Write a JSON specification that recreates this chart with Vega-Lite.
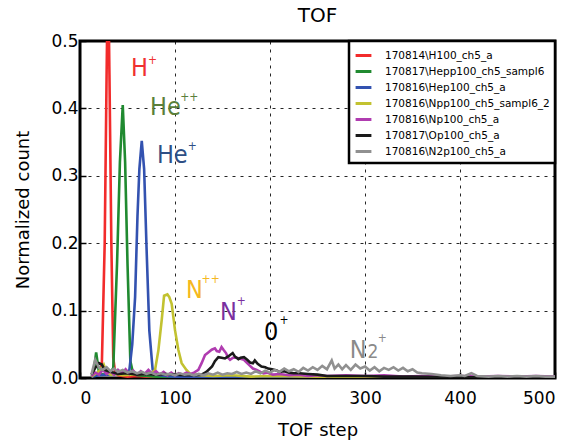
{
 "$schema": "https://vega.github.io/schema/vega-lite/v6.json",
 "width": 475, "height": 337,
 "autosize": {"type": "none"},
 "padding": {"left": 80, "top": 41, "right": 24, "bottom": 62},
 "title": {"text": "TOF", "fontSize": 20, "font": "DejaVu Sans", "fontWeight": "normal", "color": "black", "offset": 6},
 "datasets": {
  "names": [
   {"s": "H", "label": "170814\\H100_ch5_a"},
   {"s": "Hepp", "label": "170817\\Hepp100_ch5_sampl6"},
   {"s": "Hep", "label": "170816\\Hep100_ch5_a"},
   {"s": "Npp", "label": "170816\\Npp100_ch5_sampl6_2"},
   {"s": "Np", "label": "170816\\Np100_ch5_a"},
   {"s": "Op", "label": "170817\\Op100_ch5_a"},
   {"s": "N2p", "label": "170816\\N2p100_ch5_a"}
  ],
  "curves": [
   {"s":"H","x":12,"y":0.003},{"s":"H","x":16,"y":0.005},{"s":"H","x":20,"y":0.008},{"s":"H","x":23,"y":0.02},{"s":"H","x":26,"y":0.2},{"s":"H","x":28,"y":0.45},{"s":"H","x":29.5,"y":0.62},{"s":"H","x":31,"y":0.45},{"s":"H","x":33,"y":0.2},{"s":"H","x":35,"y":0.03},{"s":"H","x":37,"y":0.008},{"s":"H","x":40,"y":0.004},{"s":"H","x":45,"y":0.003},{"s":"H","x":50,"y":0.002},{"s":"H","x":60,"y":0.003},{"s":"H","x":70,"y":0.002},{"s":"H","x":80,"y":0.002},{"s":"H","x":100,"y":0.001},{"s":"H","x":150,"y":0.001},{"s":"H","x":200,"y":0.001},{"s":"H","x":300,"y":0.001},{"s":"H","x":400,"y":0.0005},{"s":"H","x":500,"y":0.0005},
   {"s":"Hepp","x":12,"y":0.002},{"s":"Hepp","x":14,"y":0.005},{"s":"Hepp","x":17,"y":0.038},{"s":"Hepp","x":20,"y":0.008},{"s":"Hepp","x":24,"y":0.005},{"s":"Hepp","x":28,"y":0.006},{"s":"Hepp","x":32,"y":0.008},{"s":"Hepp","x":35,"y":0.015},{"s":"Hepp","x":39,"y":0.17},{"s":"Hepp","x":42,"y":0.32},{"s":"Hepp","x":45,"y":0.405},{"s":"Hepp","x":47.5,"y":0.32},{"s":"Hepp","x":50,"y":0.17},{"s":"Hepp","x":53,"y":0.025},{"s":"Hepp","x":56,"y":0.006},{"s":"Hepp","x":60,"y":0.004},{"s":"Hepp","x":70,"y":0.003},{"s":"Hepp","x":80,"y":0.002},{"s":"Hepp","x":100,"y":0.002},{"s":"Hepp","x":150,"y":0.001},{"s":"Hepp","x":200,"y":0.001},{"s":"Hepp","x":300,"y":0.001},{"s":"Hepp","x":400,"y":0.0005},{"s":"Hepp","x":500,"y":0.0005},
   {"s":"Hep","x":12,"y":0.002},{"s":"Hep","x":20,"y":0.004},{"s":"Hep","x":30,"y":0.005},{"s":"Hep","x":40,"y":0.006},{"s":"Hep","x":48,"y":0.006},{"s":"Hep","x":52,"y":0.012},{"s":"Hep","x":55,"y":0.05},{"s":"Hep","x":58,"y":0.12},{"s":"Hep","x":60.5,"y":0.24},{"s":"Hep","x":62.5,"y":0.31},{"s":"Hep","x":65,"y":0.352},{"s":"Hep","x":67.5,"y":0.31},{"s":"Hep","x":70,"y":0.195},{"s":"Hep","x":73,"y":0.07},{"s":"Hep","x":76.5,"y":0.012},{"s":"Hep","x":80,"y":0.005},{"s":"Hep","x":90,"y":0.003},{"s":"Hep","x":100,"y":0.002},{"s":"Hep","x":150,"y":0.001},{"s":"Hep","x":200,"y":0.001},{"s":"Hep","x":300,"y":0.001},{"s":"Hep","x":400,"y":0.0005},{"s":"Hep","x":500,"y":0.0005},
   {"s":"Npp","x":12,"y":0.002},{"s":"Npp","x":16,"y":0.006},{"s":"Npp","x":20,"y":0.01},{"s":"Npp","x":25,"y":0.02},{"s":"Npp","x":28,"y":0.008},{"s":"Npp","x":32,"y":0.005},{"s":"Npp","x":38,"y":0.006},{"s":"Npp","x":45,"y":0.004},{"s":"Npp","x":55,"y":0.005},{"s":"Npp","x":65,"y":0.006},{"s":"Npp","x":75,"y":0.007},{"s":"Npp","x":79,"y":0.012},{"s":"Npp","x":82.5,"y":0.041},{"s":"Npp","x":86,"y":0.086},{"s":"Npp","x":88.5,"y":0.122},{"s":"Npp","x":92,"y":0.124},{"s":"Npp","x":94,"y":0.12},{"s":"Npp","x":96.5,"y":0.11},{"s":"Npp","x":100,"y":0.071},{"s":"Npp","x":103.5,"y":0.042},{"s":"Npp","x":107,"y":0.022},{"s":"Npp","x":112,"y":0.012},{"s":"Npp","x":116,"y":0.006},{"s":"Npp","x":125,"y":0.004},{"s":"Npp","x":140,"y":0.003},{"s":"Npp","x":160,"y":0.004},{"s":"Npp","x":180,"y":0.002},{"s":"Npp","x":200,"y":0.003},{"s":"Npp","x":250,"y":0.002},{"s":"Npp","x":300,"y":0.001},{"s":"Npp","x":400,"y":0.001},{"s":"Npp","x":500,"y":0.0005},
   {"s":"Np","x":12,"y":0.003},{"s":"Np","x":16,"y":0.008},{"s":"Np","x":20,"y":0.005},{"s":"Np","x":24,"y":0.012},{"s":"Np","x":28,"y":0.006},{"s":"Np","x":32,"y":0.01},{"s":"Np","x":36,"y":0.005},{"s":"Np","x":40,"y":0.012},{"s":"Np","x":44,"y":0.007},{"s":"Np","x":48,"y":0.013},{"s":"Np","x":52,"y":0.006},{"s":"Np","x":56,"y":0.011},{"s":"Np","x":60,"y":0.005},{"s":"Np","x":64,"y":0.01},{"s":"Np","x":68,"y":0.006},{"s":"Np","x":72,"y":0.012},{"s":"Np","x":76,"y":0.006},{"s":"Np","x":80,"y":0.01},{"s":"Np","x":84,"y":0.005},{"s":"Np","x":88,"y":0.009},{"s":"Np","x":92,"y":0.004},{"s":"Np","x":96,"y":0.008},{"s":"Np","x":100,"y":0.004},{"s":"Np","x":104,"y":0.007},{"s":"Np","x":108,"y":0.005},{"s":"Np","x":112,"y":0.008},{"s":"Np","x":116,"y":0.006},{"s":"Np","x":120,"y":0.008},{"s":"Np","x":124.6,"y":0.012},{"s":"Np","x":128,"y":0.022},{"s":"Np","x":131.6,"y":0.034},{"s":"Np","x":135,"y":0.038},{"s":"Np","x":138.6,"y":0.042},{"s":"Np","x":142,"y":0.044},{"s":"Np","x":144,"y":0.04},{"s":"Np","x":146.6,"y":0.039},{"s":"Np","x":149,"y":0.046},{"s":"Np","x":151,"y":0.042},{"s":"Np","x":153.7,"y":0.037},{"s":"Np","x":156,"y":0.03},{"s":"Np","x":158,"y":0.027},{"s":"Np","x":161,"y":0.03},{"s":"Np","x":165,"y":0.03},{"s":"Np","x":168,"y":0.029},{"s":"Np","x":172.6,"y":0.027},{"s":"Np","x":176,"y":0.022},{"s":"Np","x":179,"y":0.018},{"s":"Np","x":182,"y":0.014},{"s":"Np","x":186,"y":0.012},{"s":"Np","x":190,"y":0.009},{"s":"Np","x":193,"y":0.007},{"s":"Np","x":197,"y":0.008},{"s":"Np","x":203,"y":0.005},{"s":"Np","x":210,"y":0.006},{"s":"Np","x":220,"y":0.004},{"s":"Np","x":230,"y":0.005},{"s":"Np","x":240,"y":0.003},{"s":"Np","x":250,"y":0.004},{"s":"Np","x":260,"y":0.003},{"s":"Np","x":280,"y":0.004},{"s":"Np","x":300,"y":0.003},{"s":"Np","x":320,"y":0.004},{"s":"Np","x":340,"y":0.002},{"s":"Np","x":360,"y":0.003},{"s":"Np","x":380,"y":0.002},{"s":"Np","x":400,"y":0.003},{"s":"Np","x":420,"y":0.002},{"s":"Np","x":440,"y":0.003},{"s":"Np","x":460,"y":0.002},{"s":"Np","x":480,"y":0.003},{"s":"Np","x":500,"y":0.002},
   {"s":"Op","x":12,"y":0.005},{"s":"Op","x":16,"y":0.015},{"s":"Op","x":20,"y":0.022},{"s":"Op","x":23,"y":0.02},{"s":"Op","x":26,"y":0.012},{"s":"Op","x":30,"y":0.01},{"s":"Op","x":35,"y":0.008},{"s":"Op","x":40,"y":0.006},{"s":"Op","x":50,"y":0.007},{"s":"Op","x":60,"y":0.005},{"s":"Op","x":70,"y":0.006},{"s":"Op","x":80,"y":0.005},{"s":"Op","x":90,"y":0.006},{"s":"Op","x":100,"y":0.005},{"s":"Op","x":110,"y":0.004},{"s":"Op","x":120,"y":0.004},{"s":"Op","x":128,"y":0.005},{"s":"Op","x":133,"y":0.009},{"s":"Op","x":139,"y":0.017},{"s":"Op","x":142,"y":0.025},{"s":"Op","x":145.6,"y":0.031},{"s":"Op","x":149,"y":0.03},{"s":"Op","x":152.6,"y":0.029},{"s":"Op","x":156,"y":0.032},{"s":"Op","x":160.7,"y":0.037},{"s":"Op","x":163,"y":0.032},{"s":"Op","x":166.7,"y":0.028},{"s":"Op","x":169,"y":0.03},{"s":"Op","x":172.6,"y":0.031},{"s":"Op","x":176,"y":0.027},{"s":"Op","x":179,"y":0.023},{"s":"Op","x":182,"y":0.022},{"s":"Op","x":184,"y":0.026},{"s":"Op","x":187,"y":0.021},{"s":"Op","x":191,"y":0.017},{"s":"Op","x":195,"y":0.016},{"s":"Op","x":198,"y":0.014},{"s":"Op","x":202,"y":0.013},{"s":"Op","x":207,"y":0.011},{"s":"Op","x":210,"y":0.009},{"s":"Op","x":215,"y":0.01},{"s":"Op","x":220,"y":0.008},{"s":"Op","x":225,"y":0.007},{"s":"Op","x":231,"y":0.007},{"s":"Op","x":240,"y":0.006},{"s":"Op","x":250,"y":0.005},{"s":"Op","x":260,"y":0.003},{"s":"Op","x":280,"y":0.003},{"s":"Op","x":300,"y":0.003},{"s":"Op","x":320,"y":0.002},{"s":"Op","x":350,"y":0.002},{"s":"Op","x":400,"y":0.001},{"s":"Op","x":450,"y":0.001},{"s":"Op","x":500,"y":0.001},
   {"s":"N2p","x":12,"y":0.005},{"s":"N2p","x":16,"y":0.027},{"s":"N2p","x":20,"y":0.015},{"s":"N2p","x":24,"y":0.012},{"s":"N2p","x":28,"y":0.016},{"s":"N2p","x":32,"y":0.01},{"s":"N2p","x":36,"y":0.014},{"s":"N2p","x":40,"y":0.009},{"s":"N2p","x":45,"y":0.012},{"s":"N2p","x":50,"y":0.008},{"s":"N2p","x":55,"y":0.01},{"s":"N2p","x":60,"y":0.007},{"s":"N2p","x":65,"y":0.009},{"s":"N2p","x":70,"y":0.006},{"s":"N2p","x":75,"y":0.008},{"s":"N2p","x":80,"y":0.005},{"s":"N2p","x":85,"y":0.007},{"s":"N2p","x":90,"y":0.005},{"s":"N2p","x":95,"y":0.006},{"s":"N2p","x":100,"y":0.004},{"s":"N2p","x":105,"y":0.007},{"s":"N2p","x":110,"y":0.005},{"s":"N2p","x":115,"y":0.006},{"s":"N2p","x":120,"y":0.004},{"s":"N2p","x":125,"y":0.006},{"s":"N2p","x":130,"y":0.004},{"s":"N2p","x":135,"y":0.007},{"s":"N2p","x":140,"y":0.005},{"s":"N2p","x":145,"y":0.008},{"s":"N2p","x":150,"y":0.005},{"s":"N2p","x":155,"y":0.007},{"s":"N2p","x":160,"y":0.006},{"s":"N2p","x":165,"y":0.009},{"s":"N2p","x":170,"y":0.006},{"s":"N2p","x":175,"y":0.008},{"s":"N2p","x":180,"y":0.006},{"s":"N2p","x":185,"y":0.01},{"s":"N2p","x":190,"y":0.007},{"s":"N2p","x":195,"y":0.011},{"s":"N2p","x":200,"y":0.008},{"s":"N2p","x":205,"y":0.012},{"s":"N2p","x":210,"y":0.009},{"s":"N2p","x":215,"y":0.014},{"s":"N2p","x":220,"y":0.01},{"s":"N2p","x":225,"y":0.013},{"s":"N2p","x":230,"y":0.009},{"s":"N2p","x":235,"y":0.015},{"s":"N2p","x":240,"y":0.011},{"s":"N2p","x":245,"y":0.016},{"s":"N2p","x":250,"y":0.012},{"s":"N2p","x":255,"y":0.018},{"s":"N2p","x":260,"y":0.013},{"s":"N2p","x":265,"y":0.026},{"s":"N2p","x":268,"y":0.014},{"s":"N2p","x":272,"y":0.02},{"s":"N2p","x":276,"y":0.013},{"s":"N2p","x":280,"y":0.019},{"s":"N2p","x":285,"y":0.012},{"s":"N2p","x":290,"y":0.02},{"s":"N2p","x":295,"y":0.014},{"s":"N2p","x":300,"y":0.017},{"s":"N2p","x":305,"y":0.011},{"s":"N2p","x":310,"y":0.016},{"s":"N2p","x":315,"y":0.01},{"s":"N2p","x":320,"y":0.015},{"s":"N2p","x":325,"y":0.012},{"s":"N2p","x":330,"y":0.016},{"s":"N2p","x":335,"y":0.011},{"s":"N2p","x":340,"y":0.015},{"s":"N2p","x":345,"y":0.01},{"s":"N2p","x":350,"y":0.013},{"s":"N2p","x":355,"y":0.008},{"s":"N2p","x":360,"y":0.007},{"s":"N2p","x":370,"y":0.006},{"s":"N2p","x":380,"y":0.004},{"s":"N2p","x":390,"y":0.003},{"s":"N2p","x":400,"y":0.004},{"s":"N2p","x":405,"y":0.003},{"s":"N2p","x":412,"y":0.007},{"s":"N2p","x":418,"y":0.003},{"s":"N2p","x":430,"y":0.002},{"s":"N2p","x":440,"y":0.003},{"s":"N2p","x":450,"y":0.002},{"s":"N2p","x":460,"y":0.003},{"s":"N2p","x":470,"y":0.002},{"s":"N2p","x":480,"y":0.003},{"s":"N2p","x":490,"y":0.002},{"s":"N2p","x":500,"y":0.002}
  ],
  "ann": [
   {"ion":"H+","t":"H","x":53.7,"y":0.448},
   {"ion":"He++","t":"He","x":73.7,"y":0.390},
   {"ion":"He+","t":"He","x":81,"y":0.319},
   {"ion":"N++","t":"N","x":111.6,"y":0.119},
   {"ion":"N+","t":"N","x":147.4,"y":0.086},
   {"ion":"O+","t":"0","x":193.7,"y":0.056},
   {"ion":"N2+","t":"N","x":284,"y":0.030}
  ],
  "sup": [
   {"ion":"H+","t":"+","x":71.5,"y":0.466},
   {"ion":"He++","t":"++","x":105.5,"y":0.411},
   {"ion":"He+","t":"+","x":113.5,"y":0.339},
   {"ion":"N++","t":"++","x":128,"y":0.1405},
   {"ion":"N+","t":"+","x":165,"y":0.108},
   {"ion":"O+","t":"+","x":210,"y":0.0797},
   {"ion":"N2+","t":"+","x":313.5,"y":0.054}
  ],
  "sub": [
   {"ion":"N2+","t":"2","x":302.5,"y":0.030}
  ]
 },
 "layer": [
  {
   "data": {"name": "curves"},
   "transform": [{"lookup": "s", "from": {"data": {"name": "names"}, "key": "s", "fields": ["label"]}}],
   "mark": {"type": "line", "strokeWidth": 2.6, "clip": true},
   "encoding": {
    "x": {"field": "x", "type": "quantitative", "scale": {"domain": [0, 500], "nice": false}, "axis": {"values": [0, 100, 200, 300, 400, 500], "title": "TOF step"}},
    "y": {"field": "y", "type": "quantitative", "scale": {"domain": [0, 0.5], "nice": false}, "axis": {"values": [0, 0.1, 0.2, 0.3, 0.4, 0.5], "format": ".1f", "title": "Normalized count"}},
    "color": {"field": "label", "type": "nominal",
     "scale": {"domain": ["170814\\H100_ch5_a", "170817\\Hepp100_ch5_sampl6", "170816\\Hep100_ch5_a", "170816\\Npp100_ch5_sampl6_2", "170816\\Np100_ch5_a", "170817\\Op100_ch5_a", "170816\\N2p100_ch5_a"],
      "range": ["#f22b2b", "#208a30", "#3352b0", "#c2c230", "#b03cb0", "#1a1a1a", "#909090"]},
     "legend": {"title": null}}
   }
  },
  {
   "data": {"name": "ann"},
   "mark": {"type": "text", "font": "DejaVu Sans Condensed, Liberation Sans, sans-serif", "fontSize": 25, "align": "left", "baseline": "alphabetic"},
   "encoding": {
    "x": {"field": "x", "type": "quantitative"},
    "y": {"field": "y", "type": "quantitative"},
    "text": {"field": "t"},
    "color": {"field": "ion", "type": "nominal", "legend": null,
     "scale": {"domain": ["H+", "He++", "He+", "N++", "N+", "O+", "N2+"], "range": ["#f03030", "#5b7f3a", "#2e4f85", "#f5b820", "#7a2fa0", "#000000", "#8a8a8a"]}}
   }
  },
  {
   "data": {"name": "sup"},
   "mark": {"type": "text", "font": "DejaVu Sans Condensed, Liberation Sans, sans-serif", "fontSize": 12, "align": "left", "baseline": "alphabetic"},
   "encoding": {
    "x": {"field": "x", "type": "quantitative"},
    "y": {"field": "y", "type": "quantitative"},
    "text": {"field": "t"},
    "color": {"field": "ion", "type": "nominal", "legend": null,
     "scale": {"domain": ["H+", "He++", "He+", "N++", "N+", "O+", "N2+"], "range": ["#f03030", "#5b7f3a", "#2e4f85", "#f5b820", "#7a2fa0", "#000000", "#8a8a8a"]}}
   }
  },
  {
   "data": {"name": "sub"},
   "mark": {"type": "text", "font": "DejaVu Sans Condensed, Liberation Sans, sans-serif", "fontSize": 19, "align": "left", "baseline": "alphabetic"},
   "encoding": {
    "x": {"field": "x", "type": "quantitative"},
    "y": {"field": "y", "type": "quantitative"},
    "text": {"field": "t"},
    "color": {"field": "ion", "type": "nominal", "legend": null,
     "scale": {"domain": ["H+", "He++", "He+", "N++", "N+", "O+", "N2+"], "range": ["#f03030", "#5b7f3a", "#2e4f85", "#f5b820", "#7a2fa0", "#000000", "#8a8a8a"]}}
   }
  }
 ],
 "resolve": {"scale": {"color": "independent"}},
 "config": {
  "view": {"stroke": "black", "strokeWidth": 3},
  "font": "DejaVu Sans",
  "axis": {"domain": false, "grid": true, "gridColor": "black", "gridDash": [3, 5], "gridWidth": 1, "gridOpacity": 0.85,
   "tickColor": "black", "tickSize": -6, "tickWidth": 1.5,
   "labelFont": "DejaVu Sans", "labelFontSize": 17, "labelColor": "black",
   "titleFont": "DejaVu Sans", "titleFontSize": 18, "titleFontWeight": "normal", "titleColor": "black"},
  "axisX": {"labelPadding": 18, "titlePadding": 15},
  "axisY": {"labelPadding": 8, "titlePadding": 18},
  "legend": {"orient": "top-right", "offset": 0, "padding": 5, "strokeColor": "black", "strokeWidth": 2.5, "fillColor": "white",
   "labelFont": "DejaVu Sans", "labelFontSize": 10.5, "labelColor": "black", "symbolType": "stroke", "symbolStrokeWidth": 3, "symbolSize": 250,
   "rowPadding": 0, "labelOffset": 12, "labelLimit": 400}
 }
}
